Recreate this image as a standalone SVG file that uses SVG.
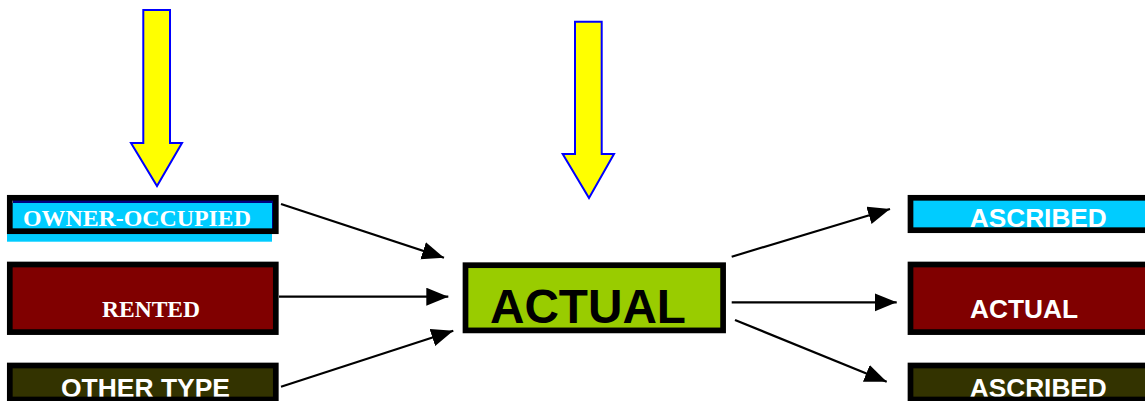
<svg xmlns="http://www.w3.org/2000/svg" width="1145" height="401" viewBox="0 0 1145 401">
<style>
.box{stroke:#000;stroke-width:5.7}
.ys{fill:#FFFF00;stroke:#0000FF;stroke-width:2;stroke-linejoin:miter}
.ts{font-family:"Liberation Sans",Arial,sans-serif;font-weight:bold;text-anchor:middle}
.tr{font-family:"Liberation Serif","Times New Roman",serif;font-weight:bold;text-anchor:middle}
.conn{stroke:#000;stroke-width:2.2;fill:none;marker-end:url(#ah)}
</style>
<defs>
<marker id="ah" markerUnits="userSpaceOnUse" markerWidth="24" markerHeight="20" refX="22" refY="9" orient="auto">
<path d="M0,0 L22,9 L0,18 z" fill="#000"/>
</marker>
</defs>
<rect width="1145" height="401" fill="#fff"/>
<g id="arrow-left"><polygon class="ys" points="143.3,10 170,10 170,143 182,143 157,186 131,143 143.3,143"/></g>
<g id="arrow-center"><polygon class="ys" points="575,21.7 601.7,21.7 601.7,154 614,154 589,198 562.7,154 575,154"/></g>
<g id="owner-occupied">
<rect x="13" y="200" width="261" height="29" fill="#000080"/>
<rect x="7" y="203" width="265" height="38.7" fill="#00CCFF"/>
<rect class="box" x="9.8" y="197.8" width="266" height="33.4" fill="none"/>
<text class="tr" x="137" y="225.7" font-size="23" fill="#fff" textLength="228" lengthAdjust="spacingAndGlyphs">OWNER-OCCUPIED</text>
</g>
<g id="rented">
<rect class="box" x="9.8" y="264.5" width="266" height="67.6" fill="#800000"/>
<text class="tr" x="151" y="316.7" font-size="23.6" fill="#fff" textLength="98" lengthAdjust="spacingAndGlyphs">RENTED</text>
</g>
<g id="other-type">
<rect x="9.8" y="365.5" width="266" height="34" fill="#333300"/>
<text class="ts" x="145.5" y="397" font-size="26.6" fill="#fff" textLength="169" lengthAdjust="spacingAndGlyphs">OTHER TYPE</text>
<rect class="box" x="9.8" y="365.5" width="266" height="34" fill="none"/>
</g>
<g id="actual-center">
<rect class="box" x="465.5" y="265.2" width="257.6" height="65.2" fill="#99CC00"/>
<text class="ts" x="588" y="323.3" font-size="47.7" fill="#000" textLength="196" lengthAdjust="spacingAndGlyphs">ACTUAL</text>
</g>
<g id="ascribed-top">
<rect class="box" x="910.5" y="197.8" width="260" height="32.4" fill="#00CCFF"/>
<text class="ts" x="1038.3" y="226.7" font-size="26.2" fill="#fff" textLength="137" lengthAdjust="spacingAndGlyphs">ASCRIBED</text>
</g>
<g id="actual-right">
<rect class="box" x="910.5" y="264.5" width="260" height="67.6" fill="#800000"/>
<text class="ts" x="1024" y="318.3" font-size="26.3" fill="#fff" textLength="108" lengthAdjust="spacingAndGlyphs">ACTUAL</text>
</g>
<g id="ascribed-bottom">
<rect x="910.5" y="365.5" width="260" height="34" fill="#333300"/>
<text class="ts" x="1038.3" y="397" font-size="26.2" fill="#fff" textLength="137" lengthAdjust="spacingAndGlyphs">ASCRIBED</text>
<rect class="box" x="910.5" y="365.5" width="260" height="34" fill="none"/>
</g>
<g id="connectors">
<line class="conn" x1="281" y1="204" x2="444" y2="257.7"/>
<line class="conn" x1="279" y1="296.7" x2="448.3" y2="296.7"/>
<line class="conn" x1="281" y1="386.7" x2="453.3" y2="330.7"/>
<line class="conn" x1="731.7" y1="256.7" x2="890" y2="209"/>
<line class="conn" x1="731.7" y1="302.3" x2="896.7" y2="302.3"/>
<line class="conn" x1="735" y1="320" x2="886.7" y2="381.7"/>
</g>
</svg>
